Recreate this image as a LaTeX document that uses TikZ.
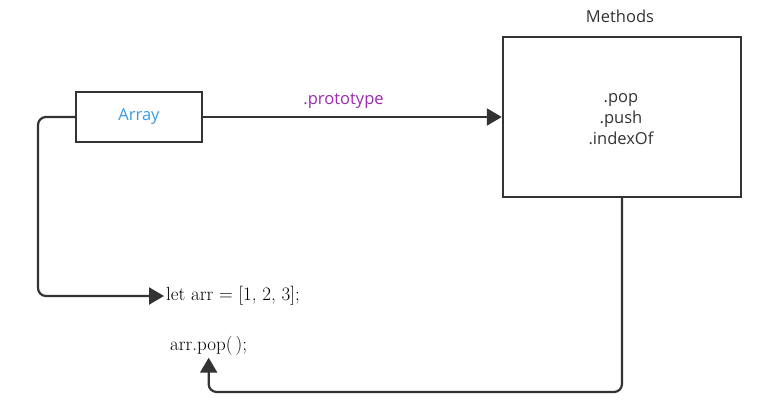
\documentclass[tikz,border=0pt]{standalone}
\usepackage{fontspec}
\usepackage{tikz}
\usetikzlibrary{arrows.meta}
\newfontfamily\uisans{Open Sans}
\definecolor{linegray}{HTML}{333333}
\definecolor{arrayblue}{HTML}{3C9BE0}
\definecolor{protopurple}{HTML}{9B2AAE}

\tikzset{
  box/.style={draw=linegray, line width=2.4pt, fill=white},
  link/.style={draw=linegray, line width=2.2pt, rounded corners=8pt,
    -{Triangle[length=15pt,width=17pt]}},
  uitext/.style={font=\uisans\fontsize{16.5}{21}\selectfont, text=linegray},
  codetext/.style={font=\fontsize{19}{22}\selectfont, text=black, inner sep=2pt}
}

\begin{document}
\begin{tikzpicture}[x=1pt, y=-1pt, line cap=round]
  \useasboundingbox (0,0) rectangle (778,415);
  % the two boxes
  \node[box, minimum width=126pt, minimum height=50pt, uitext, text=arrayblue] (array) at (139,117) {Array};
  \node[box, minimum width=238pt, minimum height=160pt] (methods) at (622,117) {};
  \node[uitext] (title) at (620,16) {Methods};
  \node[uitext, align=center] (list) at (621,119) {.pop\\.push\\.indexOf};
  % code lines
  \node[codetext, anchor=west] (letarr) at (164,296) {let arr = [1, 2, 3];};
  \node[codetext, anchor=west] (arrpop) at (168,346) {arr.pop(\,);};
  % bends of the connectors
  \coordinate (bendL) at (38,200);
  \coordinate (bendR) at (400,392);
  % connectors
  \draw[link] (array.east) -- (methods.west)
    node[pos=0.47, above=4pt, uitext, text=protopurple] (proto) {.prototype};
  \draw[link] (array.west) -| (bendL) |- (letarr.west);
  \draw[link] (methods.south) |- (bendR) -| (arrpop.south);
\end{tikzpicture}
\end{document}
